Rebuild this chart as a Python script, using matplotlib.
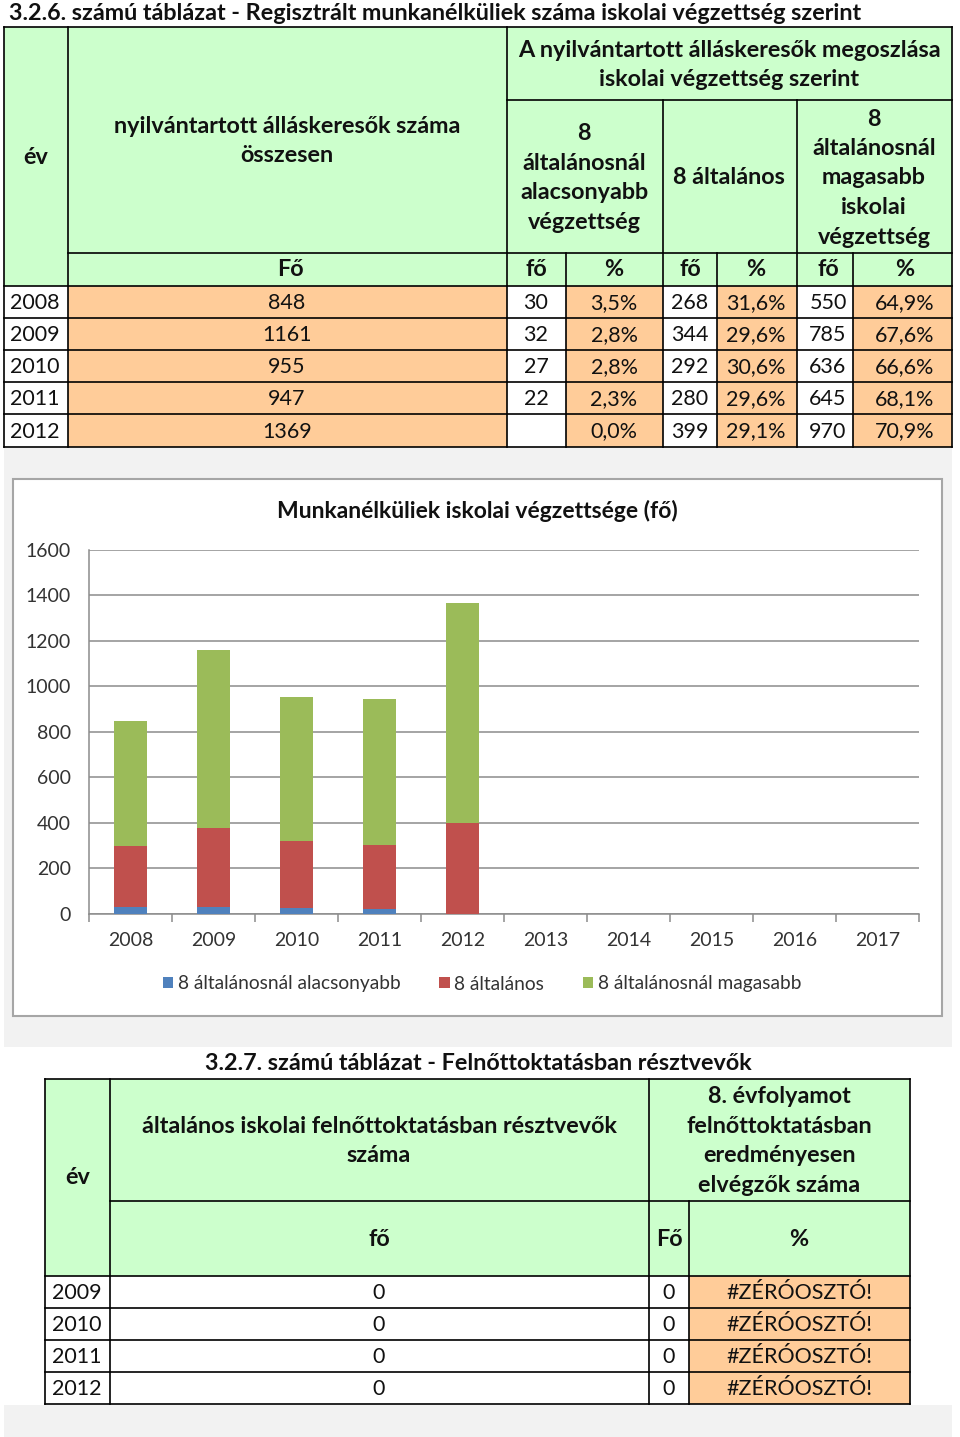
import matplotlib
matplotlib.use("Agg")
from matplotlib import pyplot as plt
from matplotlib.patches import Rectangle

plt.rcParams['font.family'] = ['Lato', 'DejaVu Sans']

# --- 3.2.6 table data ---
years = ["2008", "2009", "2010", "2011", "2012"]
total = ["848", "1161", "955", "947", "1369"]
low_n = ["30", "32", "27", "22", ""]
low_pct = ["3,5%", "2,8%", "2,8%", "2,3%", "0,0%"]
mid_n = ["268", "344", "292", "280", "399"]
mid_pct = ["31,6%", "29,6%", "30,6%", "29,6%", "29,1%"]
high_n = ["550", "785", "636", "645", "970"]
high_pct = ["64,9%", "67,6%", "66,6%", "68,1%", "70,9%"]

# --- chart data ---
chart_years = ["2008", "2009", "2010", "2011", "2012",
               "2013", "2014", "2015", "2016", "2017"]
low_vals = [30, 32, 27, 22, 0]
mid_vals = [268, 344, 292, 280, 399]
high_vals = [550, 785, 636, 645, 970]
series_names = ["8 általánosnál alacsonyabb", "8 általános", "8 általánosnál magasabb"]

# --- 3.2.7 table data ---
years2 = ["2009", "2010", "2011", "2012"]
adult_n = ["0", "0", "0", "0"]
finished_n = ["0", "0", "0", "0"]
finished_pct = ["#ZÉRÓOSZTÓ!", "#ZÉRÓOSZTÓ!", "#ZÉRÓOSZTÓ!", "#ZÉRÓOSZTÓ!"]

green = "#CCFFCC"
orange = "#FFCC99"
gray_bg = "#F2F2F2"
txt = "#111111"
c_blue = "#4F81BD"
c_red = "#C0504D"
c_green = "#9BBB59"

HB = 16.8   # bold header size
HD = 15.5   # data size

W, H = 960, 1437
fig = plt.figure(figsize=(W / 100, H / 100), dpi=100)
ax = fig.add_axes([0, 0, 1, 1])
ax.set_xlim(0, W)
ax.set_ylim(H, 0)
ax.axis("off")


def cell(x0, y0, x1, y1, fc, ec="none", lw=0):
    ax.add_patch(Rectangle((x0, y0), x1 - x0, y1 - y0, facecolor=fc, edgecolor=ec, lw=lw))


def hline(y, x0, x1, lw=1.2):
    ax.plot([x0, x1], [y, y], color="black", lw=lw, solid_capstyle="projecting")


def vline(x, y0, y1, lw=1.2):
    ax.plot([x, x], [y0, y1], color="black", lw=lw, solid_capstyle="projecting")


def t(x, y, s, bold=False, size=HD, ha="center", ls=1.5):
    ax.text(x, y, s, ha=ha, va="center", fontsize=size, color=txt,
            fontweight="bold" if bold else "normal", linespacing=ls)


# gray backgrounds
cell(4, 448, 952, 1047, gray_bg)
cell(4, 1405, 952, 1437, gray_bg)

# ===== table 3.2.6 =====
t(9, 13, "3.2.6. számú táblázat - Regisztrált munkanélküliek száma iskolai végzettség szerint",
  bold=True, size=HB, ha="left")

cell(4, 27, 952, 286, green)
row_edges = [286, 318, 350, 382, 414, 447]
cols = [4, 68, 507, 566, 663, 717, 797, 853, 952]
fills = ["white", orange, "white", orange, "white", orange, "white", orange]
for i in range(len(years)):
    for j in range(8):
        cell(cols[j], row_edges[i], cols[j + 1], row_edges[i + 1], fills[j])

# lines
hline(27, 4, 952)
hline(447, 4, 952)
vline(4, 27, 447)
vline(952, 27, 447)
vline(68, 27, 447)
vline(507, 27, 447)
hline(100, 507, 952)
vline(663, 100, 447)
vline(797, 100, 447)
hline(253, 68, 952)
for x in (566, 717, 853):
    vline(x, 253, 447)
for y in row_edges[:-1]:
    hline(y, 4, 952)

# header texts
t(36, 157, "év", bold=True, size=HB)
t(287, 141, "nyilvántartott álláskeresők száma\nösszesen", bold=True, size=HB)
t(729, 65, "A nyilvántartott álláskeresők megoszlása\niskolai végzettség szerint", bold=True, size=HB)
t(584, 178, "8\náltalánosnál\nalacsonyabb\nvégzettség", bold=True, size=HB)
t(729, 178, "8 általános", bold=True, size=HB)
t(874, 178, "8\náltalánosnál\nmagasabb\niskolai\nvégzettség", bold=True, size=HB)
for x, s in zip([290, 536, 614, 690, 756, 828, 905], ["Fő", "fő", "%", "fő", "%", "fő", "%"]):
    t(x, 270, s, bold=True, size=HB)

for i in range(len(years)):
    y = (row_edges[i] + row_edges[i + 1]) / 2 + 1
    t(10, y, years[i], ha="left")
    t(287, y, total[i])
    t(536, y, low_n[i])
    t(614, y, low_pct[i])
    t(690, y, mid_n[i])
    t(756, y, mid_pct[i])
    t(828, y, high_n[i])
    t(905, y, high_pct[i])

# ===== chart =====
cell(13, 479, 942, 1016, "white", ec="#A6A6A6", lw=1.5)
t(477, 511, "Munkanélküliek iskolai végzettsége (fő)", bold=True, size=16.5)

px0, px1, py0, py1 = 89, 919, 550, 914
ax2 = fig.add_axes([px0 / W, 1 - py1 / H, (px1 - px0) / W, (py1 - py0) / H])
ax2.patch.set_alpha(0)
xs = list(range(len(chart_years)))
n = len(low_vals)
bw = 0.39
b1 = ax2.bar(xs[:n], low_vals, width=bw, color=c_blue, label=series_names[0], zorder=3)
b2 = ax2.bar(xs[:n], mid_vals, width=bw, bottom=low_vals, color=c_red, label=series_names[1], zorder=3)
bottoms = [a + b for a, b in zip(low_vals, mid_vals)]
b3 = ax2.bar(xs[:n], high_vals, width=bw, bottom=bottoms, color=c_green, label=series_names[2], zorder=3)

ax2.set_xlim(-0.5, len(chart_years) - 0.5)
ax2.set_ylim(0, 1600)
ax2.set_yticks(range(0, 1601, 200))
ax2.yaxis.grid(True, color="#8C8C8C", lw=1.1)
ax2.set_axisbelow(True)
ax2.set_xticks(xs)
ax2.set_xticklabels(chart_years)
ax2.set_xticks([i - 0.5 for i in range(len(chart_years) + 1)], minor=True)
ax2.tick_params(axis="x", which="major", length=0, pad=13, labelsize=14, labelcolor="#333333")
ax2.tick_params(axis="x", which="minor", length=6, color="#8C8C8C", width=1.1)
ax2.tick_params(axis="y", length=0, pad=13, labelsize=14, labelcolor="#333333")
for s in ("top", "right"):
    ax2.spines[s].set_visible(False)
for s in ("left", "bottom"):
    ax2.spines[s].set_color("#8C8C8C")
    ax2.spines[s].set_linewidth(1.1)

fig.legend(handles=[b1, b2, b3], loc="center", bbox_to_anchor=(482 / W, 1 - 984 / H),
           ncol=3, frameon=False, fontsize=13.8, handlelength=0.55, handleheight=0.55,
           handletextpad=0.25, columnspacing=2.0, labelcolor="#333333")

# ===== table 3.2.7 =====
t(478, 1064, "3.2.7. számú táblázat - Felnőttoktatásban résztvevők", bold=True, size=HB)
cell(45, 1079, 910, 1276, green)
rows2 = [1276, 1308, 1340, 1372, 1404]
cols2 = [45, 110, 649, 689, 910]
fills2 = ["white", "white", "white", orange]
for i in range(len(years2)):
    for j in range(4):
        cell(cols2[j], rows2[i], cols2[j + 1], rows2[i + 1], fills2[j])

hline(1079, 45, 910)
hline(1404, 45, 910)
vline(45, 1079, 1404)
vline(910, 1079, 1404)
vline(110, 1079, 1404)
vline(649, 1079, 1404)
hline(1201, 110, 910)
vline(689, 1201, 1404)
for y in rows2[:-1]:
    hline(y, 45, 910)

t(78, 1178, "év", bold=True, size=HB)
t(379, 1141, "általános iskolai felnőttoktatásban résztvevők\nszáma", bold=True, size=HB)
t(779, 1141, "8. évfolyamot\nfelnőttoktatásban\neredményesen\nelvégzők száma", bold=True, size=HB)
t(379, 1239, "fő", bold=True, size=HB)
t(669, 1239, "Fő", bold=True, size=HB)
t(799, 1239, "%", bold=True, size=HB)
for i in range(len(years2)):
    y = (rows2[i] + rows2[i + 1]) / 2 + 1
    t(52, y, years2[i], ha="left")
    t(379, y, adult_n[i])
    t(669, y, finished_n[i])
    t(799, y, finished_pct[i])

fig.savefig("out.png", dpi=100)
